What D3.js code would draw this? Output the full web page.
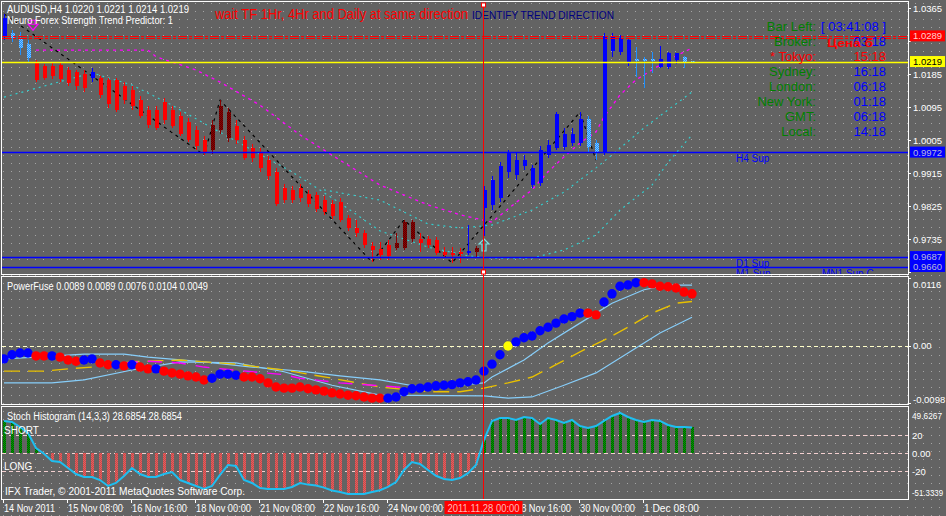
<!DOCTYPE html>
<html><head><meta charset="utf-8">
<script src="https://cdn.jsdelivr.net/npm/d3@7/dist/d3.min.js"></script>
<style>
html,body{margin:0;padding:0;background:#636363;overflow:hidden}
svg{display:block}
text{font-family:"Liberation Sans",Arial,Helvetica,sans-serif}
</style></head><body>
<svg id="chart" width="946" height="516"></svg>
<script>
// ---------------- DATA ----------------
const headerText = "AUDUSD,H4  1.0220 1.0221 1.0214 1.0219";
const indicatorTitle = "Neuro Forex Strength Trend Predictor: 1";
const warnText = "wait TF 1Hr, 4Hr and Daily at same direction";
const trendText = "IDENTIFY TREND DIRECTION";
const pfTitle = "PowerFuse 0.0089 0.0089 0.0076 0.0104 0.0049";
const stTitle = "Stoch Histogram (14,3,3) 28.6854 28.6854";
const copyright = "IFX Trader, \u00a9 2001-2011 MetaQuotes Software Corp.";

const opens = [1.0286,1.0297,1.0283,1.0267,1.0218,1.0207,1.0207,1.0210,1.0196,1.0190,
1.0185,1.0174,1.0174,1.0169,1.0169,1.0152,1.0141,1.0114,1.0087,1.0087,
1.0109,1.0087,1.0070,1.0054,1.0032,1.0005,1.0046,1.0098,1.0081,1.0043,
1.0005,0.9983,0.9972,0.9950,0.9918,0.9874,0.9869,0.9874,0.9858,0.9855,
0.9841,0.9830,0.9836,0.9792,0.9765,0.9751,0.9716,0.9708,0.9719,0.9724,
0.9781,0.9781,0.9735,0.9735,0.9732,0.9700,0.9697,0.9700,0.9697,0.9711,
0.9820,0.9828,0.9847,0.9918,0.9910,0.9934,0.9882,0.9888,0.9964,0.9983,
0.9986,0.9997,0.9997,1.0062,0.9997,0.9970,1.0248,1.0245,1.0215,1.0226,
1.0226,1.0226,1.0204,1.0204,1.0223,1.0232,1.0220];
const highs = [1.0349,1.0305,1.0300,1.0278,1.0223,1.0212,1.0218,1.0215,1.0204,1.0196,
1.0196,1.0201,1.0180,1.0174,1.0174,1.0163,1.0152,1.0125,1.0098,1.0098,
1.0120,1.0098,1.0081,1.0065,1.0043,1.0016,1.0060,1.0114,1.0092,1.0060,
1.0016,0.9994,0.9983,0.9961,0.9929,0.9885,0.9880,0.9885,0.9869,0.9863,
0.9852,0.9841,0.9847,0.9801,0.9787,0.9760,0.9727,0.9727,0.9732,0.9751,
0.9787,0.9787,0.9751,0.9743,0.9741,0.9713,0.9713,0.9711,0.9773,0.9716,
0.9880,0.9907,0.9945,0.9978,0.9972,0.9964,0.9937,0.9989,1.0005,1.0081,
1.0038,1.0038,1.0081,1.0070,1.0005,1.0297,1.0297,1.0291,1.0283,1.0259,
1.0232,1.0245,1.0261,1.0245,1.0242,1.0234,1.0221];
const lows = [1.0278,1.0272,1.0237,1.0218,1.0163,1.0169,1.0171,1.0163,1.0152,1.0141,
1.0136,1.0163,1.0120,1.0092,1.0081,1.0103,1.0087,1.0065,1.0038,1.0032,
1.0049,1.0038,1.0016,1.0000,0.9978,0.9964,0.9967,1.0021,1.0000,0.9994,
0.9950,0.9945,0.9918,0.9896,0.9825,0.9833,0.9833,0.9836,0.9822,0.9809,
0.9801,0.9790,0.9781,0.9757,0.9741,0.9711,0.9672,0.9678,0.9678,0.9705,
0.9705,0.9727,0.9700,0.9711,0.9691,0.9683,0.9670,0.9670,0.9691,0.9686,
0.9743,0.9814,0.9836,0.9901,0.9896,0.9923,0.9874,0.9880,0.9956,0.9978,
0.9978,0.9989,0.9989,0.9972,0.9950,0.9964,1.0232,1.0237,1.0207,1.0177,
1.0147,1.0188,1.0201,1.0198,1.0212,1.0201,1.0214];
const closes = [1.0338,1.0283,1.0256,1.0229,1.0169,1.0174,1.0180,1.0171,1.0161,1.0152,
1.0147,1.0190,1.0128,1.0103,1.0087,1.0114,1.0098,1.0070,1.0046,1.0038,
1.0060,1.0043,1.0021,1.0005,0.9989,0.9972,0.9978,1.0032,1.0010,1.0005,
0.9956,0.9956,0.9929,0.9907,0.9830,0.9841,0.9841,0.9847,0.9830,0.9817,
0.9809,0.9798,0.9787,0.9765,0.9751,0.9719,0.9705,0.9691,0.9689,0.9711,
0.9711,0.9735,0.9724,0.9719,0.9697,0.9691,0.9691,0.9694,0.9702,0.9700,
0.9869,0.9896,0.9934,0.9970,0.9950,0.9950,0.9929,0.9978,0.9991,1.0076,
1.0021,1.0021,1.0062,0.9986,0.9972,1.0289,1.0289,1.0283,1.0278,1.0220,
1.0220,1.0220,1.0226,1.0242,1.0242,1.0218,1.0219];
// B = blue, L = light blue (hatched), R = red, D = dark red (hatched)
const candleKinds = ("B"+"LLL"+"RRRRRRR"+"B"+"RRRRRRRRRRRRRR"+"DDD"+"RRRRRRRRRRRRRRRRRRRR"+"DDD"+"RRRRRR"+"B"+"D"+"BBBBBBBBBBBBB"+"LL"+"BBBB"+"LLL"+"BBB"+"LL").split("");

// main-panel indicator lines: [bar index], [price]
const zigIdx = [0,25,27,46,50,56,72,74];
const zigVal = [1.0349,0.9964,1.0114,0.9672,0.9787,0.9670,1.0081,0.9950];
const magIdx = [4,18,19,24,27,32,37,42,47,53,57,61,63,66,68,70,72,74,75,77,79,81,83,85,86];
const magVal = [1.0250,1.0250,1.0232,1.0196,1.0163,1.0100,1.0019,0.9950,0.9882,0.9828,0.9801,0.9781,0.9817,0.9869,0.9918,0.9959,0.9997,1.0027,1.0068,1.0128,1.0169,1.0196,1.0223,1.0245,1.0256];
const cyanAIdx = [0,6,11,16,21,26,31,36,42,47,53,58,61,66,70,74,77,81,83,86];
const cyanAVal = [1.0122,1.0158,1.0188,1.0155,1.0100,1.0038,0.9978,0.9918,0.9833,0.9757,0.9713,0.9689,0.9683,0.9683,0.9705,0.9746,0.9814,0.9882,0.9944,1.0019];
const cyanBIdx = [40,47,53,57,61,66,70,74,76,80,83,86];
const cyanBVal = [0.9869,0.9841,0.9776,0.9765,0.9773,0.9814,0.9863,0.9929,0.9964,1.0038,1.0087,1.0136];

// horizontal levels
const redLevels = [1.0289,1.0282];
const bidLevel = 1.0219;
const supLevels = [0.9972,0.9687,0.9660];
const supLabels = [["H4 Sup"],["D1 Sup"],["M1 Sup","MN1 Sup C"]];
const priceTicks = [1.0365,1.0275,1.0185,1.0095,1.0005,0.9915,0.9825,0.9735,0.9645];

// info panel
const infoLabels = ["Bar Left:","Broker:","* Tokyo:","Sydney:","London:","New York:","GMT:","Local:"];
const infoValues = ["[ 03:41:08 ]","03:18","15:18","16:18","06:18","01:18","06:18","14:18"];

// PowerFuse
const pfValues = [-0.0022,-0.0015,-0.0012,-0.0012,-0.0017,-0.0017,-0.0017,-0.0019,-0.0024,-0.0026,
-0.0024,-0.0022,-0.0029,-0.0032,-0.0032,-0.0034,-0.0032,-0.0036,-0.0039,-0.0039,
-0.0043,-0.0046,-0.0048,-0.0051,-0.0053,-0.0058,-0.0055,-0.0048,-0.0048,-0.0050,
-0.0053,-0.0053,-0.0056,-0.0063,-0.0070,-0.0072,-0.0072,-0.0070,-0.0073,-0.0075,
-0.0077,-0.0080,-0.0082,-0.0084,-0.0085,-0.0087,-0.0089,-0.0089,-0.0089,-0.0087,
-0.0078,-0.0073,-0.0072,-0.0070,-0.0068,-0.0067,-0.0066,-0.0063,-0.0061,-0.0058,
-0.0043,-0.0031,-0.0015,0.0000,0.0007,0.0014,0.0017,0.0026,0.0032,0.0039,
0.0046,0.0050,0.0056,0.0056,0.0053,0.0075,0.0089,0.0102,0.0104,0.0108,
0.0108,0.0106,0.0102,0.0101,0.0099,0.0092,0.0089];
const pfKinds = ("BBBB"+"RR"+"B"+"RRR"+"BB"+"RR"+"B"+"R"+"B"+"RR"+"B"+"RRRRRR"+"BBBB"+"RRRRRRRRRRRRRRRRRR"+"BBBBBBBBBBBBBBB"+"Y"+"BBBBBBBBB"+"RR"+"BBBBB"+"RRRRRRR").split("");
const pfUpIdx = [0,4,10,15,18,25,31,37,42,47,52,56,60,61,65,68,72,76,80,83,86];
const pfUpVal = [-0.0022,-0.0019,-0.0014,-0.0014,-0.0019,-0.0027,-0.0036,-0.0043,-0.0051,-0.0058,-0.0070,-0.0068,-0.0063,-0.0053,-0.0024,0.0005,0.0039,0.0073,0.0096,0.0104,0.0104];
const pfLoIdx = [0,6,10,16,22,29,35,41,47,60,63,66,70,74,78,82,86];
const pfLoVal = [-0.0063,-0.0063,-0.0058,-0.0041,-0.0027,-0.0029,-0.0044,-0.0067,-0.0084,-0.0085,-0.0089,-0.0087,-0.0067,-0.0046,-0.0012,0.0022,0.0049];
const pfMidIdx = [0,5,8,11,16,22,29,35,41,47,53,57,60,63,66,69,72,75,78,81,84,86];
const pfMidVal = [-0.0043,-0.0043,-0.0039,-0.0036,-0.0027,-0.0024,-0.0031,-0.0041,-0.0055,-0.0070,-0.0078,-0.0078,-0.0072,-0.0063,-0.0053,-0.0032,-0.0010,0.0010,0.0032,0.0056,0.0073,0.0076];
const pfMagIdx = [12,18,22,25,31,35,37,42,47,51];
const pfMagVal = [-0.0032,-0.0026,-0.0029,-0.0036,-0.0044,-0.0049,-0.0055,-0.0063,-0.0068,-0.0072];
const pfTicks = [0.0116,0.0,-0.0098];
const pfTickLabels = ["0.0116","0.00","-0.0098"];

// Stoch histogram
const stValues = [35.9,34.8,29.2,22.6,5.9,-0.5,-8.6,-9.7,-16.3,-23.0,
-26.3,-26.3,-29.7,-36.3,-33.0,-25.2,-16.3,-23.0,-26.3,-26.3,
-23.0,-20.8,-29.7,-33.0,-36.3,-39.7,-36.3,-24.1,-13.0,-14.1,
-29.7,-33.0,-38.6,-39.7,-39.7,-39.7,-37.4,-33.0,-34.8,-35.9,
-38.1,-41.4,-43.0,-45.2,-45.2,-45.2,-43.0,-41.0,-37.4,-32.0,
-18.5,-9.7,-11.9,-18.5,-25.0,-28.6,-29.7,-27.5,-22.0,-13.0,
14.8,35.9,39.2,39.2,37.0,40.3,39.2,32.6,39.2,37.0,
33.7,37.0,30.3,28.1,30.3,35.9,41.4,44.8,40.3,37.0,
34.8,37.0,35.9,31.4,29.2,29.2,28.6854];
const stLevels = [20,0,-20];
const stTicks = [49.6267,20,0,-20,-51.3339];
const stTickLabels = ["49.6267","20","0.00","-20","-51.3339"];

// time axis
const timeTickIdx = [0,8,16,24,32,40,48,56,64,72,80];
const timeTickLabels = ["14 Nov 2011","15 Nov 08:00","16 Nov 16:00","18 Nov 00:00","21 Nov 08:00","22 Nov 16:00","24 Nov 00:00","25 Nov 08:00","28 Nov 16:00","30 Nov 00:00","1 Dec 08:00"];
const markerIdx = 60;
const markerLabel = "2011.11.28 00:00";
const arrowDown = {i:4, p:1.0318};
const arrowUp = {i:60, p:0.9735};

// ---------------- LAYOUT ----------------
const W = 946, H = 516;
const L = 2, R = 908;
const P1 = {t:2, b:274}, P2 = {t:277, b:404}, P3 = {t:407, b:499};

const x = d3.scaleLinear().domain([0,86]).range([4,692]);
const yP = d3.scaleLinear().domain([0.9645,1.0365]).range([272,8]);
const yF = d3.scaleLinear().domain([-0.0098,0.0116]).range([403.4,278]);
const yS = d3.scaleLinear().domain([-51.3339,49.6267]).range([499.5,408.6]);

const svg = d3.select("#chart");
const defs = svg.append("defs");

const gp = defs.append("pattern").attr("id","grid").attr("width",8).attr("height",8).attr("patternUnits","userSpaceOnUse");
gp.append("rect").attr("x",3).attr("y",3).attr("width",1).attr("height",1).attr("fill","#a4a4a4");

function checker(id,a,b){
  const p = defs.append("pattern").attr("id",id).attr("width",2).attr("height",2).attr("patternUnits","userSpaceOnUse");
  p.append("rect").attr("width",2).attr("height",2).attr("fill",a);
  p.append("rect").attr("width",1).attr("height",1).attr("fill",b);
  p.append("rect").attr("x",1).attr("y",1).attr("width",1).attr("height",1).attr("fill",b);
}
checker("hD","#8b0000","#5a0000");
checker("hL","#1e90ff","#7fc4ff");
checker("hG","#00a000","#005a00");
checker("hR","#e06060","#c84848");

function clip(id,p){
  defs.append("clipPath").attr("id",id).append("rect").attr("x",L).attr("y",p.t).attr("width",R-L).attr("height",p.b-p.t);
}
clip("c1",P1); clip("c2",P2); clip("c3",P3);

svg.append("rect").attr("width",W).attr("height",H).attr("fill","#636363");
svg.append("rect").attr("width",W).attr("height",H).attr("fill","url(#grid)");

// ---------------- MAIN PANEL ----------------
const g1 = svg.append("g").attr("clip-path","url(#c1)");
const kline = (idx,val,ys) => d3.line().x((d,k)=>x(idx[k])).y(d=>ys(d))(val);

// info panel text (under lines)
const info = svg.append("g").attr("font-size",13);
infoLabels.forEach((t,k)=>{
  const yy = 31 + k*15;
  info.append("text").attr("x",816).attr("y",yy).attr("text-anchor","end")
    .attr("fill", k===2 ? "#ff0000" : "#008000").text(t);
  info.append("text").attr("x",886).attr("y",yy).attr("text-anchor","end")
    .attr("fill", k===2 ? "#ff0000" : "#0000ff").text(infoValues[k]);
});

// indicator lines
g1.append("path").attr("d",kline(cyanAIdx,cyanAVal,yP)).attr("fill","none").attr("stroke","#33cccc").attr("stroke-width",1.2).attr("stroke-dasharray","2,4");
g1.append("path").attr("d",kline(cyanBIdx,cyanBVal,yP)).attr("fill","none").attr("stroke","#33cccc").attr("stroke-width",1.2).attr("stroke-dasharray","2,4");
g1.append("path").attr("d",kline(magIdx,magVal,yP)).attr("fill","none").attr("stroke","#ff00ff").attr("stroke-width",1.3).attr("stroke-dasharray","3,4");
g1.append("path").attr("d",kline(zigIdx,zigVal,yP)).attr("fill","none").attr("stroke","#000000").attr("stroke-width",1.2).attr("stroke-dasharray","3,4");

// candles
const kindColor = {B:"#0000ff",R:"#ff0000",D:"#8b0000",L:"#1e90ff"};
const kindFill = {B:"#0000ff",R:"#ff0000",D:"url(#hD)",L:"url(#hL)"};
const cg = g1.append("g").attr("shape-rendering","crispEdges");
opens.forEach((o,i)=>{
  const k = candleKinds[i];
  const cx = Math.round(x(i));
  cg.append("rect").attr("x",cx).attr("width",1)
    .attr("y",Math.round(yP(highs[i]))).attr("height",Math.max(1,Math.round(yP(lows[i]))-Math.round(yP(highs[i]))))
    .attr("fill",kindColor[k]);
  const top = Math.round(yP(Math.max(o,closes[i]))), bot = Math.round(yP(Math.min(o,closes[i])));
  cg.append("rect").attr("x",cx-1).attr("y",top).attr("width",4).attr("height",Math.max(2,bot-top))
    .attr("fill",kindFill[k]);
});

// arrows
{
  const ax = x(arrowDown.i)-3, ay = yP(arrowDown.p);
  g1.append("path").attr("transform",`translate(${ax},${ay})`)
    .attr("d","M-5,-5H5M-2,-5V-1M2,-5V-1M-5,-1L0,5L5,-1Z").attr("fill","none").attr("stroke","#ff00ff").attr("stroke-width",1.2);
  const ux = x(arrowUp.i), uy = yP(arrowUp.p);
  g1.append("path").attr("transform",`translate(${ux},${uy+6})`)
    .attr("d","M0,-6L5,-1H2V6H-2V-1H-5Z").attr("fill","none").attr("stroke","#80e0e0").attr("stroke-width",1.2);
}

// horizontal levels
redLevels.forEach(p=>{
  g1.append("line").attr("x1",L).attr("x2",R).attr("y1",Math.round(yP(p))+0.5).attr("y2",Math.round(yP(p))+0.5)
    .attr("stroke","#ff0000").attr("stroke-width",1).attr("stroke-dasharray","9,2,3,2");
});
g1.append("line").attr("x1",L).attr("x2",R).attr("y1",Math.round(yP(bidLevel))+0.5).attr("y2",Math.round(yP(bidLevel))+0.5)
  .attr("stroke","#ffff00").attr("stroke-width",1.3);
supLevels.forEach((p,k)=>{
  const yy = Math.round(yP(p))+0.5;
  g1.append("line").attr("x1",L).attr("x2",R).attr("y1",yy).attr("y2",yy).attr("stroke","#0000ff").attr("stroke-width",1.5);
  supLabels[k].forEach((t,j)=>{
    g1.append("text").attr("x", j===0 ? 736 : 822).attr("y",yy+9.5).attr("font-size",10).attr("fill","#0000ff").text(t);
  });
});

// red price tag text over info
svg.append("text").attr("x",827).attr("y",47).attr("font-size",11).attr("font-weight","bold").attr("fill","#ff0000")
  .attr("textLength",46).attr("lengthAdjust","spacingAndGlyphs").text("\u0426\u0435\u043d\u0430 \u0431");

// header texts
svg.append("text").attr("x",7).attr("y",13).attr("font-size",10).attr("fill","#ffffff")
  .attr("textLength",182).attr("lengthAdjust","spacingAndGlyphs").text(headerText);
svg.append("text").attr("x",7).attr("y",23.5).attr("font-size",10).attr("fill","#ffffff")
  .attr("textLength",166).attr("lengthAdjust","spacingAndGlyphs").text(indicatorTitle);
svg.append("text").attr("x",215).attr("y",19).attr("font-size",14).attr("fill","#ff0000")
  .attr("textLength",253).attr("lengthAdjust","spacingAndGlyphs").text(warnText);
svg.append("text").attr("x",472).attr("y",18.5).attr("font-size",11).attr("fill","#000080")
  .attr("textLength",142).attr("lengthAdjust","spacingAndGlyphs").text(trendText);

// price tags (defined first so hidden tick labels can be skipped)
const tags = [{p:redLevels[0],bg:"#ff0000",fg:"#ffd0d0"},{p:bidLevel,bg:"#ffff00",fg:"#000000"}]
  .concat(supLevels.map(p=>({p:p,bg:"#0000ff",fg:"#b8b8d8"})));

// price axis labels
const ax1 = svg.append("g").attr("font-size",9.5).attr("fill","#ffffff");
priceTicks.forEach(p=>{
  const yy = yP(p);
  svg.append("line").attr("x1",R).attr("x2",R+3).attr("y1",Math.round(yy)+0.5).attr("y2",Math.round(yy)+0.5).attr("stroke","#fff");
  const hidden = tags.some(t=>Math.abs(yP(t.p)-yy)<8);
  if(!hidden) ax1.append("text").attr("x",913).attr("y",yy+3.5).text(d3.format(".4f")(p));
});
tags.forEach(t=>{
  const yy = yP(t.p);
  svg.append("rect").attr("x",910).attr("y",yy-5.5).attr("width",35).attr("height",11).attr("fill",t.bg);
  svg.append("text").attr("x",913).attr("y",yy+3.5).attr("font-size",9.5).attr("fill",t.fg).text(d3.format(".4f")(t.p));
});

// ---------------- POWERFUSE PANEL ----------------
const g2 = svg.append("g").attr("clip-path","url(#c2)");
g2.append("line").attr("x1",L).attr("x2",R).attr("y1",Math.round(yF(0))+0.5).attr("y2",Math.round(yF(0))+0.5)
  .attr("stroke","#ffffc8").attr("stroke-dasharray","4,3");
g2.append("path").attr("d",kline(pfUpIdx,pfUpVal,yF)).attr("fill","none").attr("stroke","#87cefa").attr("stroke-width",1.2);
g2.append("path").attr("d",kline(pfLoIdx,pfLoVal,yF)).attr("fill","none").attr("stroke","#87cefa").attr("stroke-width",1.2);
g2.append("path").attr("d",kline(pfMidIdx,pfMidVal,yF)).attr("fill","none").attr("stroke","#e8c000").attr("stroke-width",1.4).attr("stroke-dasharray","16,8");
g2.append("path").attr("d",kline(pfMagIdx,pfMagVal,yF)).attr("fill","none").attr("stroke","#ff00ff").attr("stroke-width",1.4).attr("stroke-dasharray","14,10");
const pfColor = {B:"#0000ff",R:"#ff0000",Y:"#ffff00"};
g2.selectAll("circle.pf").data(pfValues).enter().append("circle")
  .attr("cx",(d,i)=>x(i)).attr("cy",d=>yF(d)).attr("r",4.7).attr("fill",(d,i)=>pfColor[pfKinds[i]]);
svg.append("text").attr("x",7).attr("y",290).attr("font-size",10).attr("fill","#fff")
  .attr("textLength",201).attr("lengthAdjust","spacingAndGlyphs").text(pfTitle);
pfTicks.forEach((v,k)=>{
  let yy = yF(v);
  svg.append("line").attr("x1",R).attr("x2",R+3).attr("y1",Math.round(yy)+0.5).attr("y2",Math.round(yy)+0.5).attr("stroke","#fff");
  yy = Math.max(P2.t+7, Math.min(P2.b-5, yy));
  svg.append("text").attr("x",913).attr("y",yy+3.5).attr("font-size",9.5).attr("fill","#fff").text(pfTickLabels[k]);
});

// ---------------- STOCH PANEL ----------------
const g3 = svg.append("g").attr("clip-path","url(#c3)");
stLevels.forEach(v=>{
  g3.append("line").attr("x1",L).attr("x2",R).attr("y1",Math.round(yS(v))+0.5).attr("y2",Math.round(yS(v))+0.5)
    .attr("stroke","#f4d0d0").attr("stroke-dasharray","4,3");
});
g3.selectAll("rect.h").data(stValues).enter().append("rect")
  .attr("shape-rendering","crispEdges")
  .attr("x",(d,i)=>Math.round(x(i))-1).attr("width",3)
  .attr("y",d=>Math.min(yS(0),yS(d))).attr("height",d=>Math.abs(yS(d)-yS(0)))
  .attr("fill",d=> d>=0 ? "url(#hG)" : "url(#hR)");
g3.append("path").attr("d",d3.line().x((d,i)=>x(i)).y(d=>yS(d))(stValues)).attr("fill","none")
  .attr("stroke","#1ebef0").attr("stroke-width",2);
svg.append("text").attr("x",7).attr("y",420).attr("font-size",10).attr("fill","#fff")
  .attr("textLength",175).attr("lengthAdjust","spacingAndGlyphs").text(stTitle);
svg.append("text").attr("x",4).attr("y",433.5).attr("font-size",10).attr("fill","#fff").text("SHORT");
svg.append("text").attr("x",4).attr("y",470).attr("font-size",10).attr("fill","#fff").text("LONG");
svg.append("text").attr("x",5).attr("y",494.5).attr("font-size",10).attr("fill","#fff")
  .attr("textLength",240).attr("lengthAdjust","spacingAndGlyphs").text(copyright);
stTicks.forEach((v,k)=>{
  let yy = yS(v);
  yy = Math.max(P3.t+8, Math.min(P3.b-6.5, yy));
  const n = stTickLabels[k].length;
  svg.append("text").attr("x",912).attr("y",yy+3.5).attr("font-size",n>7?9:9.5).attr("fill","#fff")
    .attr("textLength", n>6 ? (n>7 ? 31 : 30) : null).attr("lengthAdjust","spacingAndGlyphs").text(stTickLabels[k]);
});

// ---------------- FRAMES ----------------
[P1,P2,P3].forEach(p=>{
  svg.append("rect").attr("x",L-0.5).attr("y",p.t-0.5).attr("width",R-L+1).attr("height",p.b-p.t+1)
    .attr("fill","none").attr("stroke","#ffffff").attr("stroke-width",1);
});

// marker vertical line
const mx = Math.round(x(markerIdx))-0.5;
svg.append("line").attr("x1",mx).attr("x2",mx).attr("y1",P1.t+3).attr("y2",P3.b).attr("stroke","#ff0000");
[P1.t+1, P1.b-4].forEach(yy=>{
  svg.append("rect").attr("x",mx-2).attr("y",yy).attr("width",4).attr("height",4).attr("fill","#ffffff").attr("stroke","#ff0000");
});

// time axis
const tx = svg.append("g").attr("font-size",10).attr("fill","#fff");
const boxL = mx-39, boxR = mx+39;
timeTickIdx.forEach((i,k)=>{
  const xx = Math.round(x(i))-1;
  svg.append("line").attr("x1",xx+0.5).attr("x2",xx+0.5).attr("y1",P3.b).attr("y2",P3.b+4).attr("stroke","#fff");
  const w = k===0?51:55;
  if(xx+1 >= boxL && xx+1+w <= boxR) return; // fully covered by the marker box
  tx.append("text").attr("x",xx+1).attr("y",512).attr("textLength",w).attr("lengthAdjust","spacingAndGlyphs").text(timeTickLabels[k]);
});
svg.append("rect").attr("x",boxL).attr("y",501).attr("width",78).attr("height",13).attr("fill","#ff0000");
svg.append("text").attr("x",mx).attr("y",511.5).attr("text-anchor","middle").attr("font-size",10).attr("fill","#ffb8b8")
  .attr("textLength",72).attr("lengthAdjust","spacingAndGlyphs").text(markerLabel);
</script>
</body></html>
